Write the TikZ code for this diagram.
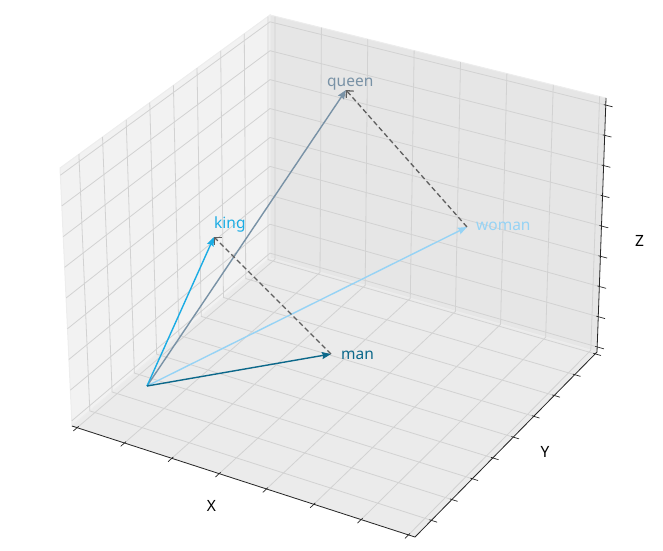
\documentclass[tikz,border=0pt]{standalone}
\usepackage{fontspec}
\setmainfont{Noto Sans}
\usetikzlibrary{arrows.meta, calc}

\definecolor{kingc}{RGB}{27,172,228}
\definecolor{queenc}{RGB}{121,146,166}
\definecolor{womanc}{RGB}{150,211,245}
\definecolor{manc}{RGB}{12,104,138}
\definecolor{diffc}{RGB}{95,95,95}
\definecolor{gridc}{RGB}{210,210,210}
\definecolor{leftpane}{RGB}{242,242,242}
\definecolor{rightpane}{RGB}{230,230,230}
\definecolor{floorpane}{RGB}{235,235,235}

\begin{document}
\begin{tikzpicture}[
  x=1pt, y=-1pt,
  pane/.style={draw=black!7, line width=1pt},
  gridline/.style={draw=gridc, line width=0.8pt},
  axisline/.style={draw=black!85, line width=0.8pt},
  tickmark/.style={draw=black!85, line width=0.7pt},
  vec/.style={line width=1.4pt, -{Stealth[length=9pt, width=7pt, inset=1pt]}},
  diff/.style={draw=diffc, line width=1.3pt, dash pattern=on 5pt off 3pt,
               -{Straight Barb[length=5pt, width=10pt]}},
  lbl/.style={font=\fontsize{15.5}{18}\selectfont, anchor=base west, inner sep=0pt},
  axlbl/.style={font=\fontsize{15.5}{18}\selectfont, inner sep=0pt}
]
\useasboundingbox (0,0) rectangle (663,550);

% box corners
\coordinate (b) at (72,426);
\coordinate (a) at (415,537);
\coordinate (c) at (597,352);
\coordinate (d) at (270,258);
\coordinate (dt) at (270,15);
\coordinate (ct) at (606,98);
\coordinate (bt) at (60,168);

% panes
\filldraw[pane, fill=leftpane] (b) -- (d) -- (dt) -- (bt) -- cycle;
\filldraw[pane, fill=rightpane] (d) -- (c) -- (ct) -- (dt) -- cycle;
\filldraw[pane, fill=floorpane] (b) -- (a) -- (c) -- (d) -- cycle;

% grid
\foreach \k in {0,...,7} {
  \pgfmathsetmacro\u{0.015+0.138*\k}
  \draw[gridline] ($(b)!\u!(a)$) -- ($(d)!\u!(c)$) -- ($(dt)!\u!(ct)$);
}
\foreach \k in {0,...,8} {
  \pgfmathsetmacro\v{0.09+0.1125*\k}
  \draw[gridline] ($(a)!\v!(c)$) -- ($(b)!\v!(d)$) -- ($(bt)!\v!(dt)$);
  \pgfmathsetmacro\w{0.02+0.119*\k}
  \draw[gridline] ($(b)!\w!(bt)$) -- ($(d)!\w!(dt)$) -- ($(c)!\w!(ct)$);
}

% axes and ticks
\draw[axisline] (b) -- (a) -- (c) -- (ct);
\foreach \k in {0,...,7} {
  \pgfmathsetmacro\u{0.015+0.138*\k}
  \coordinate (p) at ($(b)!\u!(a)$);
  \coordinate (q) at ($(d)!\u!(c)$);
  \draw[tickmark] ($(p)!-5pt!(q)$) -- ($(p)!2pt!(q)$);
}
\foreach \k in {0,...,8} {
  \pgfmathsetmacro\v{0.09+0.1125*\k}
  \coordinate (p) at ($(a)!\v!(c)$);
  \coordinate (q) at ($(b)!\v!(d)$);
  \draw[tickmark] ($(p)!-6pt!(q)$) -- ($(p)!2pt!(q)$);
  \pgfmathsetmacro\w{0.02+0.119*\k}
  \coordinate (p) at ($(c)!\w!(ct)$);
  \coordinate (q) at ($(d)!\w!(dt)$);
  \draw[tickmark] ($(p)!-7pt!(q)$) -- ($(p)!2pt!(q)$);
}

\node[axlbl] (xl) at (211.5,505.5) {X};
\node[axlbl] (yl) at (545,452) {Y};
\node[axlbl] (zl) at (639.5,241) {Z};

% word vectors
\coordinate (o) at (147,386);
\coordinate (kg) at (214,237);
\coordinate (qn) at (346,90);
\coordinate (wm) at (467,227);
\coordinate (mn) at (331,354);

\draw[vec, womanc] (o) -- (wm);
\draw[vec, queenc] (o) -- (qn);
\draw[vec, kingc] (o) -- (kg);
\draw[vec, manc] (o) -- (mn);
\draw[diff] (mn) -- (kg);
\draw[diff] (wm) -- (qn);

\node[lbl, text=kingc] (kingl) at (214,228.5) {king};
\node[lbl, text=queenc] (queenl) at (327,86) {queen};
\node[lbl, text=womanc] (womanl) at (476,230) {woman};
\node[lbl, text=manc] (manl) at (341,359.5) {man};
\end{tikzpicture}
\end{document}
